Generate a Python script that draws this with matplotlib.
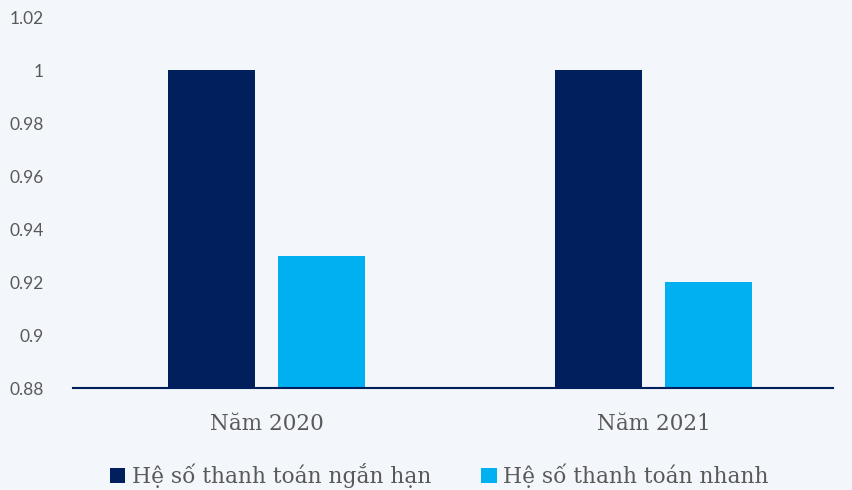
import matplotlib.pyplot as plt
import numpy as np

categories = ["Năm 2020", "Năm 2021"]
series_names = ["Hệ số thanh toán ngắn hạn", "Hệ số thanh toán nhanh"]
current_ratio = [1.0, 1.0]
quick_ratio = [0.93, 0.92]
y_ticks = [0.88, 0.9, 0.92, 0.94, 0.96, 0.98, 1, 1.02]
y_labels = ["0.88", "0.9", "0.92", "0.94", "0.96", "0.98", "1", "1.02"]

bg = "#F3F7FB"
dark = "#001F5C"
light = "#00B0F0"
grey = "#595959"

fig = plt.figure(figsize=(8.53, 4.90), dpi=100, facecolor=bg)
ax = fig.add_axes([73 / 853, 1 - 388 / 490, 760 / 853, (388 - 17) / 490])
ax.set_facecolor(bg)

x = np.arange(len(categories))
w = 0.225
ax.bar(x - 0.143, current_ratio, w, color=dark, label=series_names[0], zorder=2)
ax.bar(x + 0.143, quick_ratio, w, color=light, label=series_names[1], zorder=2)

ax.set_ylim(0.88, 1.02)
ax.set_xlim(-0.5, 1.464)
ax.set_yticks(y_ticks)
ax.set_yticklabels(y_labels, fontfamily="Lato", fontsize=12.5, color=grey)
ax.set_xticks(x)
ax.set_xticklabels(categories, fontfamily="DejaVu Serif", fontsize=15.5, color=grey)
ax.tick_params(axis="both", length=0)
ax.tick_params(axis="x", pad=18)
ax.tick_params(axis="y", pad=21)

for side in ["top", "right", "left"]:
    ax.spines[side].set_visible(False)
ax.spines["bottom"].set_color(dark)
ax.spines["bottom"].set_linewidth(1.5)
ax.spines["bottom"].set_zorder(3)

fig.legend(loc="lower center", bbox_to_anchor=(0.515, -0.036), ncol=2, frameon=False,
           prop={"family": "DejaVu Serif", "size": 15.7}, labelcolor=grey,
           handlelength=0.7, handleheight=0.7, handletextpad=0.3, columnspacing=2.3)

fig.savefig("out.png", dpi=100, facecolor=bg)
